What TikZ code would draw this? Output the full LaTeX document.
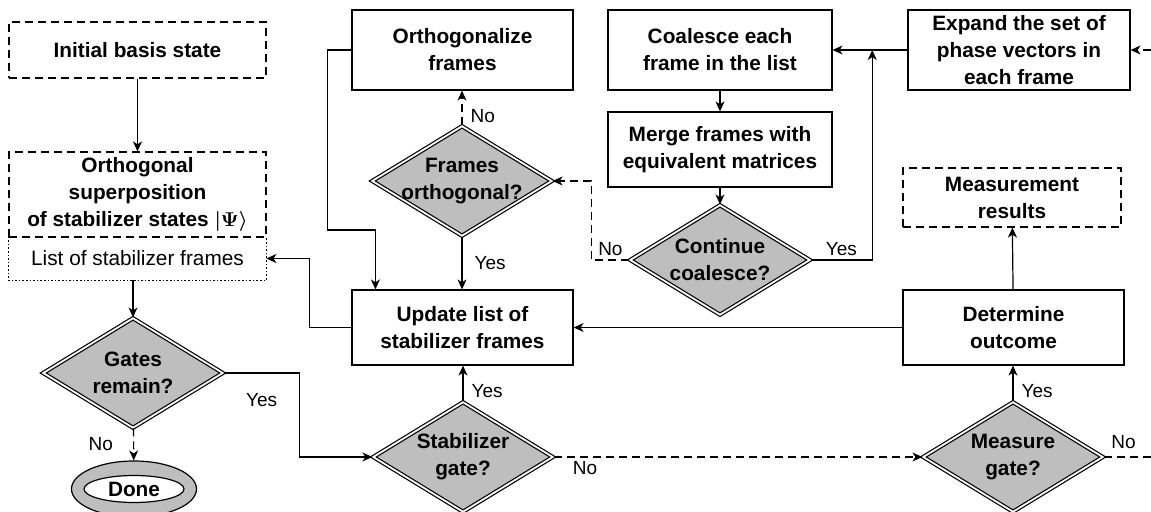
\documentclass[tikz,border=0pt]{standalone}
\usepackage{amsmath}
\usepackage[no-math]{fontspec}
\setmainfont{Liberation Sans}
\usetikzlibrary{arrows.meta,shapes.geometric,calc}
\definecolor{decgray}{RGB}{190,190,190}
\def \boxfont {\fontsize{10.4}{13.5}\selectfont\bfseries}

\begin{document}
\begin{tikzpicture}[x=0.5pt,y=-0.5pt,
      >={Stealth[length=5pt,width=4.5pt,inset=1.5pt]},
      box/.style={draw,semithick,align=center,font=\boxfont,inner sep=1pt},
      dashline/.style={dash pattern=on 4pt off 2.5pt},
      dbox/.style={box,dashline},
      decision/.style={diamond,draw,semithick,double=white,
        double distance=0.9pt,fill=decgray,aspect=1.64,
        minimum width=90pt,minimum height=55pt,
        inner xsep=-8pt,inner ysep=0pt,align=center,font=\boxfont},
      lbl/.style={font=\fontsize{9.5}{11}\selectfont,inner sep=2pt}]
      \useasboundingbox (0,0) rectangle (1151,512);
      \clip (0,0) rectangle (1151,512);
      % left column
      \node[dbox,minimum width=128.5pt,minimum height=28pt] (init) at (137.5,50) {Initial basis state};
      \node[dbox,minimum width=128.5pt,minimum height=42.5pt] (orth) at (137.5,194.5)
        {Orthogonal\\superposition\\of stabilizer states $\boldsymbol{|\Psi\rangle}$};
      \node[minimum width=128.5pt,minimum height=21.5pt,inner sep=0pt,
        font=\fontsize{10.4}{12}\selectfont] (lst) at (137.5,258.5) {List of stabilizer frames};
      \draw[semithick,dash pattern=on 0.8pt off 1pt] (lst.north west) -- (lst.south west)
        -- (lst.south east) -- (lst.north east);
      \node[decision] (gates) at (133,373) {Gates\\remain?};
      \node[ellipse,draw,semithick,fill=decgray,minimum width=62.5pt,minimum height=28pt] (done) at (134,489) {};
      \node[ellipse,draw,semithick,fill=white,minimum width=50pt,minimum height=13.5pt,
        inner sep=0pt,font=\boxfont] (donetxt) at (done) {Done};
      % middle column
      \node[box,minimum width=110.5pt,minimum height=40pt] (ortho) at (462.5,50) {Orthogonalize\\frames};
      \node[decision] (fortho) at (462,181) {Frames\\orthogonal?};
      \node[box,minimum width=110.5pt,minimum height=37.5pt] (upd) at (462.5,327.5) {Update list of\\stabilizer frames};
      \node[decision] (stab) at (463,457) {Stabilizer\\gate?};
      % coalesce column
      \node[box,minimum width=112pt,minimum height=40pt] (coal) at (720,50) {Coalesce each\\frame in the list};
      \node[box,minimum width=112pt,minimum height=37.5pt] (merge) at (720,149.5) {Merge frames with\\equivalent matrices};
      \node[decision] (cont) at (720,260) {Continue\\coalesce?};
      % right column
      \node[box,minimum width=111pt,minimum height=40pt] (exp) at (1019,50) {Expand the set of\\phase vectors in\\each frame};
      \node[dbox,minimum width=109pt,minimum height=29.5pt] (res) at (1012,197.5) {Measurement\\results};
      \node[box,minimum width=110.5pt,minimum height=37.5pt] (det) at (1013.5,327.5) {Determine\\outcome};
      \node[decision] (meas) at (1013,457) {Measure\\gate?};

      \draw[semithick,->] (init) -- (orth);
      \draw[semithick,->] (lst.south -| gates) -- (gates.north);
      \draw[semithick,->,dashline] (gates) -- node[lbl,left=8pt] {No} (done);
      \draw[semithick,->] (gates.east) -- ++(76,0) node[lbl,midway,below=8pt] {Yes} |- (stab.west);
      \draw[semithick,->] (stab.north) -- node[lbl,pos=0.3,right=2pt] {Yes} (stab.north |- upd.south);
      \draw[semithick,->,dashline] (stab.east) -- node[lbl,pos=0.04,below right] {No} (meas.west);
      \draw[semithick,->] (meas.north) -- node[lbl,pos=0.3,right=2pt] {Yes} (meas.north |- det.south);
      \draw[semithick,->] (det) -- (res);
      \draw[semithick,->] (det.west) -- (upd.east);
      \draw[semithick,->] (upd.west) -- ++(-42,0) |- (lst.east);
      \draw[semithick,->] (ortho.west) -- ++(-24,0) -- ++(0,180) -| ([xshift=12pt]upd.north west);
      \draw[semithick,->,dashline] (fortho.north) -- node[lbl,pos=0.28,right=2pt] {No} (fortho.north |- ortho.south);
      \draw[semithick,->] (fortho.south) -- node[lbl,right=4pt] {Yes} (fortho.south |- upd.north);
      \draw[semithick,->] (coal) -- (merge);
      \draw[semithick,->] (merge) -- (cont);
      \draw[semithick,->,dashline] (cont.west) -- ++(-38,0) node[lbl,midway,above] {No} |- (fortho.east);
      \draw[semithick,->] (cont.east) -| node[lbl,pos=0.25,above] {Yes} ($(coal.east)!0.53!(exp.west)$);
      \draw[semithick,->] (exp) -- (coal);
      \draw[semithick,->,dashline] (meas.east) -- ++(80,0) node[lbl,pos=0.25,above=2pt] {No} |- (exp.east);
    \end{tikzpicture}
\end{document}
